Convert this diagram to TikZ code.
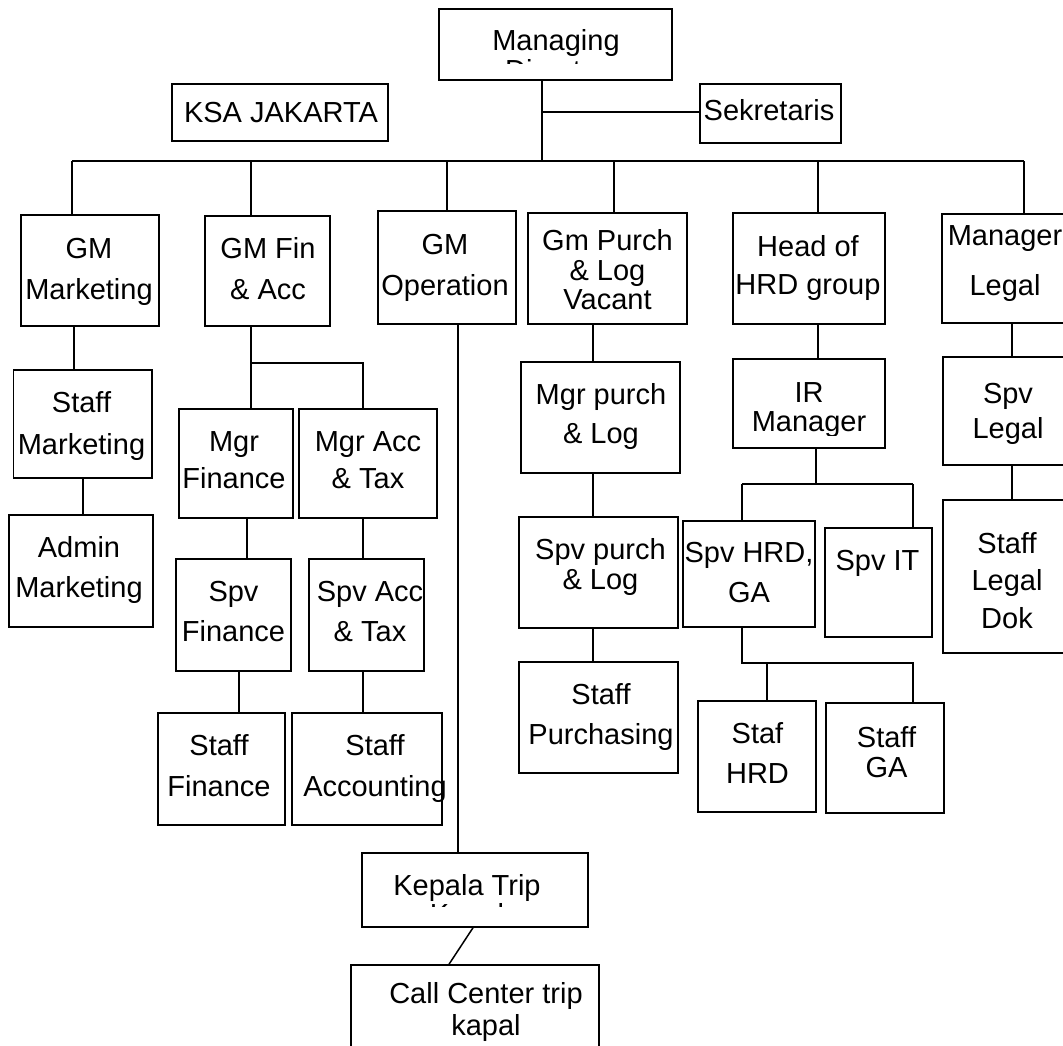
\documentclass[tikz,border=0pt]{standalone}
\usepackage{fontspec}
\setmainfont{Liberation Sans}
\newcommand\fsz[1]{\fontsize{29bp}{#1bp}\selectfont}
\tikzset{
  orgbox/.style={draw=black, line width=1.5bp, inner sep=0pt, fill=none},
  txt/.style={align=center, inner sep=0pt, text=black},
  conn/.style={draw=black, line width=1.5bp},
}
% box: name, x1, y1, x2, y2
\newcommand\obox[5]{\node[orgbox, minimum width={(#4-#2)*1bp}, minimum height={(#5-#3)*1bp}] (#1) at ({(#2+#4)/2},{(#3+#5)/2}) {};}
% vertical link from upper node to lower node at x
\newcommand\vlink[3]{\coordinate (tmpx) at (#3,0); \draw[conn] (#1.south -| tmpx) -- (#2.north -| tmpx);}
\begin{document}
\begin{tikzpicture}[x=1bp, y=-1bp]
\clip (0,0) rectangle (1063,1046);
\fill[white] (0,0) rectangle (1063,1046);

% ---------- boxes ----------
\obox{md}{439}{9}{672}{80}
\obox{sek}{700}{84}{841}{143}
\obox{ksa}{172}{84}{388}{141}
\obox{gmm}{21}{215}{159}{326}
\obox{gmf}{205}{216}{330}{326}
\obox{gmo}{378}{211}{516}{324}
\obox{gmp}{528}{213}{687}{324}
\obox{hrd}{733}{213}{885}{324}
\obox{mlg}{942}{214}{1075}{323}
\obox{stm}{13.5}{370}{152}{478}
\obox{adm}{9}{515}{153}{627}
\obox{mfin}{179}{409}{293}{518}
\obox{macc}{299}{409}{437}{518}
\obox{sfin}{176}{559}{291}{671}
\obox{sacc}{309}{559}{424}{671}
\obox{stfin}{158}{713}{285}{825}
\obox{stacc}{292}{713}{442}{825}
\obox{mgrp}{521}{362}{680}{473}
\obox{spvp}{519}{517}{678}{628}
\obox{stp}{519}{662}{678}{773}
\obox{ir}{733}{359}{885}{448}
\obox{shrd}{683}{521}{815}{627}
\obox{sit}{825}{528}{932}{637}
\obox{sthrd}{698}{701}{816}{812}
\obox{stga}{826}{703}{944}{813}
\obox{spl}{943}{357}{1075}{465}
\obox{stl}{943}{500}{1077}{653}
\obox{kep}{362}{853}{588}{927}
\obox{cc}{351}{965}{599}{1075}

% ---------- texts ----------
\begin{scope}
  \clip (439,9) rectangle (672,63);
  \node[txt, font=\fsz{30}] (md-t) at (556,55.5) {Managing\\Director};
\end{scope}
\node[txt, font=\fsz{30}] (sek-t) at (769,110) {Sekretaris};
\node[txt, font=\fsz{30}] (ksa-t) at (281,112.5) {KSA JAKARTA};
\node[txt, font=\fsz{41}] (gmm-t) at (89,271.5) {GM\\Marketing};
\node[txt, font=\fsz{41}] (gmf-t) at (268,269) {GM Fin\\\& Acc};
\node[txt, font=\fsz{41}] (gmo-t) at (445,268) {GM\\Operation};
\node[txt, font=\fsz{29.5}] (gmp-t) at (607.5,270) {Gm Purch\\\& Log\\Vacant};
\node[txt, font=\fsz{38}] (hrd-t) at (808,268) {Head of\\HRD group};
\node[txt, font=\fsz{50}] (mlg-t) at (1005,264) {Manager\\Legal};
\node[txt, font=\fsz{41.5}] (stm-t) at (81.5,426) {Staff\\Marketing};
\node[txt, font=\fsz{40}] (adm-t) at (79,570) {Admin\\Marketing};
\node[txt, font=\fsz{37}] (mfin-t) at (234,460.5) {Mgr\\Finance};
\node[txt, font=\fsz{37}] (macc-t) at (368,460.5) {Mgr Acc\\\& Tax};
\node[txt, font=\fsz{40}] (sfin-t) at (233.5,612) {Spv\\Finance};
\node[txt, font=\fsz{40}] (sacc-t) at (370,612) {Spv Acc\\\& Tax};
\node[txt, font=\fsz{41}] (stfin-t) at (219,765.5) {Staff\\Finance};
\node[txt, font=\fsz{41}] (stacc-t) at (375,769) {Staff\\Accounting};
\node[txt, font=\fsz{39}] (mgrp-t) at (601,416) {Mgr purch\\\& Log};
\node[txt, font=\fsz{30}] (spvp-t) at (600.5,567) {Spv purch\\\& Log};
\node[txt, font=\fsz{40}] (stp-t) at (601,717.5) {Staff\\Purchasing};
\begin{scope}
  \clip (733,359) rectangle (885,435);
  \node[txt, font=\fsz{29}] (ir-t) at (809,410) {IR\\Manager};
\end{scope}
\node[txt, font=\fsz{40}] (shrd-t) at (749,573) {Spv HRD,\\GA};
\node[txt, font=\fsz{30}, anchor=base] (sit-t) at (877.5,570) {Spv IT};
\node[txt, font=\fsz{40}] (sthrd-t) at (757.5,753) {Staf\\HRD};
\node[txt, font=\fsz{30}] (stga-t) at (886.5,752) {Staff\\GA};
\node[txt, font=\fsz{35}] (spl-t) at (1008,414) {Spv\\Legal};
\node[txt, font=\fsz{37.5}] (stl-t) at (1007,580.5) {Staff\\Legal\\Dok};
\begin{scope}
  \clip (362,853) rectangle (588,906);
  \node[txt, font=\fsz{29}] (kep-t) at (467,902) {Kepala Trip\\Kapal};
\end{scope}
\node[txt, font=\fsz{32}] (cc-t) at (486,1011.5) {Call Center trip\\kapal};

% ---------- connectors ----------
\coordinate (mdj) at (542,161);
\coordinate (sekj) at (542,112);
\draw[conn] (md.south -| mdj) -- (mdj);
\draw[conn] (sekj) -- (sek.west |- sekj);

\coordinate (b1) at (72,161);
\coordinate (b2) at (251,161);
\coordinate (b3) at (447,161);
\coordinate (b4) at (614,161);
\coordinate (b5) at (818,161);
\coordinate (b6) at (1024,161);
\draw[conn] (b1) -- (b6);
\draw[conn] (b1) -- (b1 |- gmm.north);
\draw[conn] (b2) -- (b2 |- gmf.north);
\draw[conn] (b3) -- (b3 |- gmo.north);
\draw[conn] (b4) -- (b4 |- gmp.north);
\draw[conn] (b5) -- (b5 |- hrd.north);
\draw[conn] (b6) -- (b6 |- mlg.north);

\vlink{gmm}{stm}{74}
\vlink{stm}{adm}{83}

\coordinate (f1) at (251,363);
\coordinate (f2) at (363,363);
\draw[conn] (gmf.south -| f1) -- (f1) -- (f2) -- (f2 |- macc.north);
\draw[conn] (f1) -- (f1 |- mfin.north);
\vlink{mfin}{sfin}{247}
\vlink{macc}{sacc}{363}
\vlink{sfin}{stfin}{239}
\vlink{sacc}{stacc}{363}

\vlink{gmo}{kep}{458}
\coordinate (k1) at (473,0);
\coordinate (k2) at (449,0);
\draw[conn] (kep.south -| k1) -- (cc.north -| k2);

\vlink{gmp}{mgrp}{593}
\vlink{mgrp}{spvp}{593}
\vlink{spvp}{stp}{593}

\vlink{hrd}{ir}{818}
\coordinate (i0) at (816,484);
\coordinate (i1) at (742,484);
\coordinate (i2) at (913,484);
\draw[conn] (ir.south -| i0) -- (i0);
\draw[conn] (i1) -- (i2);
\draw[conn] (i1) -- (i1 |- shrd.north);
\draw[conn] (i2) -- (i2 |- sit.north);
\coordinate (h1) at (742,663);
\coordinate (h2) at (767,663);
\coordinate (h3) at (913,663);
\draw[conn] (shrd.south -| h1) -- (h1) -- (h3) -- (h3 |- stga.north);
\draw[conn] (h2) -- (h2 |- sthrd.north);

\vlink{mlg}{spl}{1012}
\vlink{spl}{stl}{1012}
\end{tikzpicture}
\end{document}
